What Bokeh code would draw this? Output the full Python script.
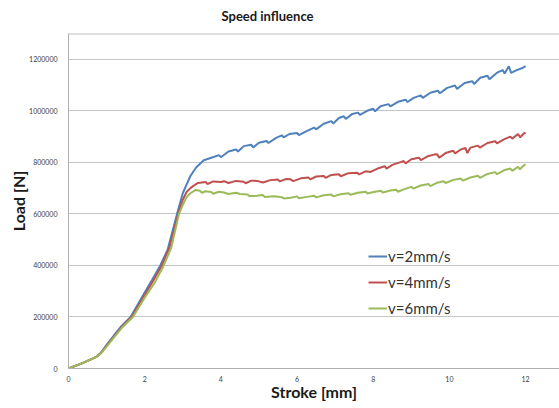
from bokeh.plotting import figure
from bokeh.embed import file_html
from bokeh.resources import INLINE
from bokeh.models import Range1d, Span, Legend, LegendItem, FixedTicker

# ---- data ----
stroke_v2 = [0.0, 0.35, 0.72, 0.85, 1.0, 1.2, 1.4, 1.63, 2.0, 2.2, 2.41, 2.6, 2.85, 3.0, 3.12, 3.2, 3.35, 3.55,
             3.75, 3.95, 4.0, 4.2, 4.4, 4.45, 4.6, 4.8, 4.85, 5.0, 5.2, 5.25, 5.45, 5.6, 5.65, 5.8, 6.0, 6.05,
             6.25, 6.45, 6.5, 6.7, 6.9, 6.95, 7.1, 7.23, 7.28, 7.45, 7.6, 7.65, 7.84, 8.0, 8.05, 8.19, 8.4, 8.45,
             8.65, 8.85, 8.9, 9.06, 9.25, 9.3, 9.5, 9.7, 9.75, 9.94, 10.15, 10.2, 10.4, 10.6, 10.65, 10.81, 11.0,
             11.05, 11.25, 11.4, 11.45, 11.56, 11.62, 11.75, 11.9, 12.0]
load_v2 = [0, 20000, 44000, 61000, 92000, 130000, 166000, 200000, 295000, 345000, 400000, 460000, 600000, 680000,
           720000, 747000, 780000, 808000,
           818000, 828000, 820000, 842000, 850000, 842000, 863000, 868000, 858000, 876000, 883000, 875000,
           895000, 905000, 897000, 910000, 914000, 906000, 921000, 935000, 928000, 950000, 960000, 951000,
           972000, 979000, 968000, 988000, 993000, 984000, 1000000, 1008000, 998000, 1018000, 1026000, 1017000,
           1035000, 1043000, 1034000, 1050000, 1060000, 1050000, 1070000, 1078000, 1068000, 1089000, 1098000,
           1085000, 1108000, 1115000, 1104000, 1128000, 1136000, 1122000, 1148000, 1158000, 1145000, 1173000,
           1147000, 1157000, 1165000, 1173000]

stroke_v4 = [0.0, 0.35, 0.72, 0.85, 1.0, 1.2, 1.4, 1.66, 2.0, 2.2, 2.45, 2.65, 2.88, 3.0, 3.1, 3.2, 3.29, 3.4,
             3.6, 3.65, 3.8, 4.0, 4.08, 4.2, 4.4, 4.6, 4.65, 4.8, 4.95, 5.1, 5.3, 5.5, 5.55, 5.7, 5.83, 5.9,
             6.1, 6.3, 6.35, 6.5, 6.7, 6.75, 6.9, 7.1, 7.15, 7.35, 7.58, 7.63, 7.8, 7.93, 8.1, 8.3, 8.35, 8.5,
             8.7, 8.8, 8.85, 9.0, 9.2, 9.25, 9.45, 9.6, 9.68, 9.73, 9.9, 10.1, 10.15, 10.3, 10.42, 10.47, 10.55,
             10.75, 10.8, 11.0, 11.2, 11.25, 11.43, 11.6, 11.65, 11.8, 11.86, 11.95, 12.0]
load_v4 = [0, 20000, 44000, 60000, 88000, 125000, 162000, 200000, 285000, 335000, 400000, 470000, 600000,
           655000, 685000, 700000, 710000, 720000,
           724000, 716000, 726000, 724000, 727000, 720000, 728000, 725000, 719000, 729000, 728000, 722000,
           731000, 733000, 726000, 735000, 734000, 727000, 738000, 741000, 734000, 745000, 747000, 740000,
           751000, 754000, 746000, 758000, 760000, 753000, 765000, 763000, 775000, 785000, 776000, 790000,
           800000, 805000, 796000, 812000, 818000, 809000, 825000, 830000, 831000, 818000, 836000, 845000,
           835000, 850000, 856000, 836000, 857000, 865000, 857000, 875000, 882000, 874000, 889000, 900000,
           892000, 910000, 897000, 912000, 915000]

stroke_v6 = [0.0, 0.35, 0.72, 0.85, 1.0, 1.2, 1.4, 1.69, 2.0, 2.25, 2.5, 2.7, 2.9, 3.0, 3.1, 3.2, 3.34, 3.45,
             3.5, 3.6, 3.75, 3.8, 3.95, 4.08, 4.2, 4.4, 4.5, 4.7, 4.75, 4.95, 5.1, 5.15, 5.4, 5.6, 5.65, 5.83,
             6.0, 6.05, 6.26, 6.45, 6.5, 6.7, 6.9, 6.95, 7.14, 7.35, 7.4, 7.6, 7.8, 7.85, 8.01, 8.2, 8.25, 8.45,
             8.6, 8.65, 8.8, 9.0, 9.05, 9.25, 9.45, 9.5, 9.68, 9.85, 9.9, 10.1, 10.3, 10.35, 10.55, 10.75, 10.8,
             11.0, 11.2, 11.25, 11.43, 11.6, 11.65, 11.8, 11.85, 11.95, 12.0]
load_v6 = [0, 20000, 44000, 58000, 85000, 122000, 158000, 200000, 275000, 330000, 400000, 470000, 600000,
           635000, 665000, 680000, 693000, 690000,
           682000, 688000, 685000, 678000, 686000, 683000, 677000, 682000, 677000, 675000, 669000, 670000,
           673000, 666000, 668000, 665000, 660000, 663000, 668000, 661000, 666000, 670000, 664000, 672000,
           675000, 668000, 676000, 680000, 674000, 682000, 686000, 679000, 685000, 690000, 683000, 691000,
           694000, 686000, 695000, 705000, 698000, 710000, 716000, 708000, 721000, 727000, 720000, 732000,
           737000, 729000, 741000, 748000, 740000, 755000, 762000, 754000, 769000, 776000, 767000, 783000,
           773000, 788000, 792000]

series_names = ["v=2mm/s", "v=4mm/s", "v=6mm/s"]
x_ticks = [0, 2, 4, 6, 8, 10, 12]
y_ticks = [0, 200000, 400000, 600000, 800000, 1000000, 1200000]
chart_title = "Speed influence"

FONT = "Lato"
p = figure(width=559, height=408, output_backend="svg", toolbar_location=None,
           x_range=Range1d(0, 12.89), y_range=Range1d(0, 1300000),
           min_border_left=68, min_border_right=0, min_border_top=32, min_border_bottom=40,
           title=chart_title)
p.outline_line_color = None
p.background_fill_color = "white"
p.border_fill_color = "white"

p.title.align = "left"
p.title.offset = 153
p.title.vertical_align = "top"
p.title.standoff = 15
p.title.text_font = FONT
p.title.text_font_size = "13px"
p.title.text_font_style = "bold"
p.title.text_color = "#1a1a1a"

# top border of plot area
p.add_layout(Span(location=1300000, dimension="width", line_color="#bdbdbd", line_width=2))

p.xgrid.visible = False
p.ygrid.grid_line_color = "#c4c4c4"
p.ygrid.grid_line_width = 1

for ax in (p.xaxis, p.yaxis):
    ax.axis_line_color = "#b0b0b0"
    ax.major_tick_line_color = None
    ax.minor_tick_line_color = None
    ax.major_label_text_font = FONT
    ax.major_label_text_font_size = "7px"
    ax.major_label_text_color = "#404040"
    ax.axis_label_text_font = FONT
    ax.axis_label_text_font_size = "16px"
    ax.axis_label_text_font_style = "bold"
    ax.axis_label_text_color = "#1a1a1a"

p.xaxis.ticker = FixedTicker(ticks=x_ticks)
p.yaxis.ticker = FixedTicker(ticks=y_ticks)
p.yaxis.formatter.use_scientific = False
p.xaxis.axis_label = "Stroke [mm]"
p.yaxis.axis_label = "Load [N]"
p.xaxis.major_label_standoff = 1
p.yaxis.major_label_standoff = 5
p.xaxis.axis_label_standoff = -3
p.yaxis.axis_label_standoff = -2

colors = ["#4F81BD", "#C0504D", "#9BBB59"]
r1 = p.line(stroke_v2, load_v2, line_color=colors[0], line_width=2)
r2 = p.line(stroke_v4, load_v4, line_color=colors[1], line_width=2)
r3 = p.line(stroke_v6, load_v6, line_color=colors[2], line_width=2)

legend = Legend(items=[LegendItem(label=series_names[0], renderers=[r1]),
                       LegendItem(label=series_names[1], renderers=[r2]),
                       LegendItem(label=series_names[2], renderers=[r3])],
                location=(300, 50), background_fill_alpha=0, border_line_color=None,
                label_text_font=FONT, label_text_font_size="15px", label_text_color="#333333",
                glyph_width=19, glyph_height=20, label_standoff=1, spacing=6, padding=4, margin=0)
p.add_layout(legend)

open("out.html", "w").write(file_html(p, INLINE))
